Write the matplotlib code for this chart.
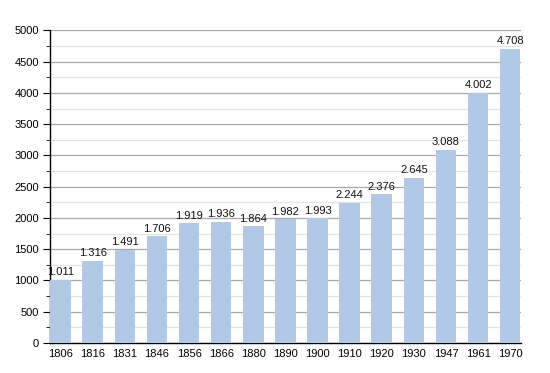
import matplotlib
matplotlib.use("Agg")
import matplotlib.pyplot as plt
from matplotlib.ticker import MultipleLocator

years = ["1806", "1816", "1831", "1846", "1856", "1866", "1880", "1890", "1900",
         "1910", "1920", "1930", "1947", "1961", "1970"]
population = [1011, 1316, 1491, 1706, 1919, 1936, 1864, 1982, 1993,
              2244, 2376, 2645, 3088, 4002, 4708]

plt.rcParams['font.family'] = ['Liberation Sans', 'DejaVu Sans']
fig = plt.figure(figsize=(5.5, 3.73), dpi=100)
ax = fig.add_axes([0.0909, 0.0804, 0.856, 0.838])

x = list(range(len(years)))
ax.bar(x, population, width=0.64, color="#b1c9e5", zorder=3)
for xi, v in zip(x, population):
    lab = f"{v:,}".replace(",", ".")
    ax.text(xi, v + 40, lab, ha="center", va="bottom", fontsize=8, color="#111111", zorder=4)

ax.set_xlim(-0.33, 14.33)
ax.set_ylim(0, 5000)
ax.set_xticks(x)
ax.set_xticklabels(years)
ax.yaxis.set_major_locator(MultipleLocator(500))
ax.yaxis.set_minor_locator(MultipleLocator(250))
ax.grid(axis="y", which="major", color="#a8a8a8", linewidth=0.9, zorder=0)
ax.grid(axis="y", which="minor", color="#e3e3e3", linewidth=0.9, zorder=0)
for s in ["top", "right"]:
    ax.spines[s].set_visible(False)
ax.spines["left"].set_linewidth(1.0)
ax.spines["bottom"].set_linewidth(1.0)
ax.tick_params(axis="x", length=0, labelsize=8, pad=4)
ax.tick_params(axis="y", which="major", length=5, labelsize=8, pad=3)
ax.tick_params(axis="y", which="minor", length=3)
fig.savefig("out.png", dpi=100)
